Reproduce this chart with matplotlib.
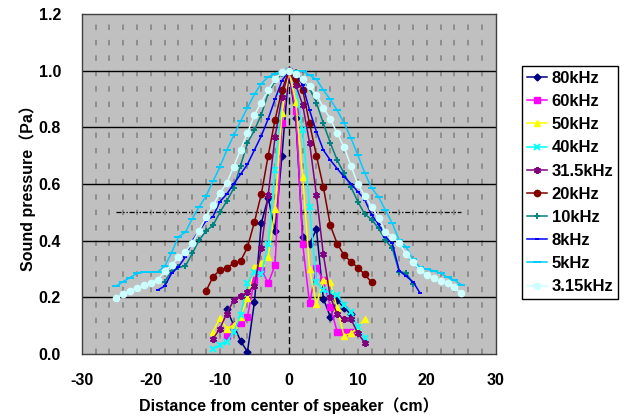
import numpy as np
import matplotlib
matplotlib.use("Agg")
import matplotlib.pyplot as plt

plt.rcParams['font.family'] = ['Liberation Sans', 'Noto Sans CJK JP']
plt.rcParams['font.weight'] = 'bold'
plt.rcParams['axes.unicode_minus'] = False

# distance from speaker centre (cm) and sound pressure (Pa) per frequency
x_80k = list(range(-9, 10))
p_80k = [0.159, 0.102, 0.046, 0.008, 0.182, 0.461, 0.552, 0.434, 0.70, 1.0,
         0.832, 0.414, 0.39, 0.44, 0.196, 0.132, 0.19, 0.164, 0.14]

x_60k = list(range(-9, 10))
p_60k = [0.063, 0.10, 0.108, 0.132, 0.261, 0.30, 0.25, 0.314, 0.814, 1.0,
         0.858, 0.39, 0.179, 0.305, 0.261, 0.167, 0.079, 0.079, 0.079]

x_50k = list(range(-11, 12))
p_50k = [0.079, 0.128, 0.09, 0.102, 0.13, 0.199, 0.308, 0.32, 0.343, 0.511, 0.85, 1.0,
         0.891, 0.626, 0.302, 0.175, 0.261, 0.255, 0.161, 0.065, 0.073, 0.093, 0.124]

x_40k = list(range(-11, 12))
p_40k = [0.018, 0.032, 0.044, 0.077, 0.138, 0.25, 0.29, 0.281, 0.387, 0.65, 0.91, 1.0,
         0.95, 0.79, 0.52, 0.255, 0.226, 0.214, 0.208, 0.173, 0.149, 0.096, 0.055]

x_31k = list(range(-11, 12))
p_31k = [0.053, 0.09, 0.143, 0.19, 0.206, 0.218, 0.241, 0.375, 0.561, 0.767, 0.908, 1.0,
         0.95, 0.88, 0.746, 0.561, 0.352, 0.202, 0.14, 0.124, 0.124, 0.073, 0.04]

x_20k = list(range(-12, 13))
p_20k = [0.222, 0.273, 0.296, 0.305, 0.32, 0.328, 0.377, 0.465, 0.564, 0.70, 0.828, 0.932, 1.0,
         0.97, 0.934, 0.814, 0.70, 0.59, 0.455, 0.39, 0.349, 0.326, 0.305, 0.281, 0.253]

x_10k = list(range(-18, 19))
p_10k = [0.256, 0.292, 0.306, 0.311, 0.355, 0.402, 0.435, 0.454, 0.50, 0.54, 0.585, 0.665,
         0.745, 0.79, 0.845, 0.92, 0.965, 0.99, 1.0,
         0.995, 0.97, 0.938, 0.887, 0.814, 0.746, 0.685, 0.638, 0.59, 0.538, 0.494, 0.475,
         0.444, 0.402, 0.373, 0.29, 0.287, 0.247]

x_8k = list(range(-19, 20))
p_8k = [0.226, 0.24, 0.285, 0.308, 0.343, 0.40, 0.435, 0.47, 0.485, 0.538, 0.565, 0.60,
        0.635, 0.67, 0.72, 0.77, 0.83, 0.90, 0.965, 1.0,
        0.99, 0.95, 0.861, 0.785, 0.72, 0.685, 0.655, 0.626, 0.602, 0.573, 0.545, 0.491,
        0.459, 0.414, 0.391, 0.294, 0.275, 0.255, 0.216]

x_5k = list(range(-25, 26))
p_5k = [0.24, 0.256, 0.27, 0.285, 0.29, 0.29, 0.29, 0.31, 0.358, 0.414, 0.43, 0.478, 0.52,
        0.558, 0.61, 0.66, 0.72, 0.772, 0.822, 0.869, 0.917, 0.955, 0.978, 0.99, 0.997, 1.0,
        1.0, 0.999, 0.985, 0.97, 0.932, 0.899, 0.861, 0.816, 0.763, 0.702, 0.64, 0.586,
        0.555, 0.508, 0.461, 0.402, 0.379, 0.334, 0.306, 0.299, 0.294, 0.285, 0.271, 0.261, 0.245]

x_3k = list(range(-25, 26))
p_3k = [0.198, 0.212, 0.223, 0.233, 0.242, 0.252, 0.263, 0.292, 0.315, 0.341, 0.36, 0.393,
        0.435, 0.485, 0.525, 0.568, 0.605, 0.661, 0.722, 0.781, 0.844, 0.888, 0.932, 0.97,
        0.995, 1.0,
        0.99, 0.97, 0.945, 0.915, 0.87, 0.83, 0.78, 0.73, 0.665, 0.60, 0.558, 0.52, 0.479,
        0.432, 0.414, 0.391, 0.353, 0.326, 0.296, 0.279, 0.267, 0.259, 0.25, 0.235, 0.214]

labels = ['80kHz', '60kHz', '50kHz', '40kHz', '31.5kHz', '20kHz', '10kHz', '8kHz', '5kHz', '3.15kHz']
xs = [x_80k, x_60k, x_50k, x_40k, x_31k, x_20k, x_10k, x_8k, x_5k, x_3k]
ps = [p_80k, p_60k, p_50k, p_40k, p_31k, p_20k, p_10k, p_8k, p_5k, p_3k]
colors = ['#000080', '#ff00ff', '#ffff00', '#00ffff', '#800080', '#800000',
          '#008080', '#0000ff', '#00ccff', '#ccffff']
markers = ['D', 's', '^', 'x', (6, 2, 0), 'o', '+', '_', '_', 'o']
msizes = [3.5, 4, 5, 4, 5, 4.5, 5, 3.5, 6, 4.5]

fig = plt.figure(figsize=(6.3, 4.17), dpi=100)
ax = fig.add_axes([0.130, 0.151, 0.657, 0.815])
ax.set_facecolor('#c0c0c0')

# grid
for gx in range(-28, 30, 2):
    if gx == 0:
        continue
    ax.axvline(gx, color='#808080', lw=1.1, dashes=(3.6, 6.5), zorder=1)
for gy in np.arange(0.2, 1.2, 0.2):
    ax.axhline(gy, color='black', lw=1.0, zorder=1)
ax.axvline(0, color='black', lw=1.0, dashes=(5, 2.5), zorder=1)
ax.plot([-25, 25], [0.5, 0.5], color='black', lw=0.9,
        dashes=(4, 1.5, 1, 1.5, 1, 1.5), zorder=1)

for x, p, c, m, ms, lab in zip(xs, ps, colors, markers, msizes, labels):
    mew = 1.4 if m in ('x', '+', '_', (6, 2, 0)) else 1.0
    ax.plot(x, p, color=c, marker=m, markersize=ms, markeredgewidth=mew,
            lw=1.1, label=lab, zorder=3)

ax.set_xlim(-30, 30)
ax.set_ylim(0, 1.2)
ax.set_xticks(range(-30, 31, 10))
ax.set_xticklabels([str(v) for v in range(-30, 31, 10)])
ax.set_yticks(np.arange(0, 1.21, 0.2))
ax.set_yticklabels(['%.1f' % v for v in np.arange(0, 1.21, 0.2)])
ax.tick_params(axis='x', labelsize=11.5, length=0, pad=14)
ax.tick_params(axis='y', labelsize=11.5, length=0, pad=15)
for s in ax.spines.values():
    s.set_linewidth(1.0)
    s.set_color('#404040')

ax.set_xlabel('Distance from center of speaker（cm）', fontsize=11.5, fontweight='bold', labelpad=6)
ax.set_ylabel('Sound pressure（Pa）', fontsize=11.5, fontweight='bold', labelpad=2)

leg = fig.legend(loc='upper left', bbox_to_anchor=(0.828, 0.842), fancybox=False,
                 edgecolor='black', framealpha=1, fontsize=12, handlelength=1.25,
                 handletextpad=0.25, labelspacing=0.49, borderpad=0.3, borderaxespad=0)
leg.get_frame().set_linewidth(1.0)

fig.savefig('out.png', dpi=100)
